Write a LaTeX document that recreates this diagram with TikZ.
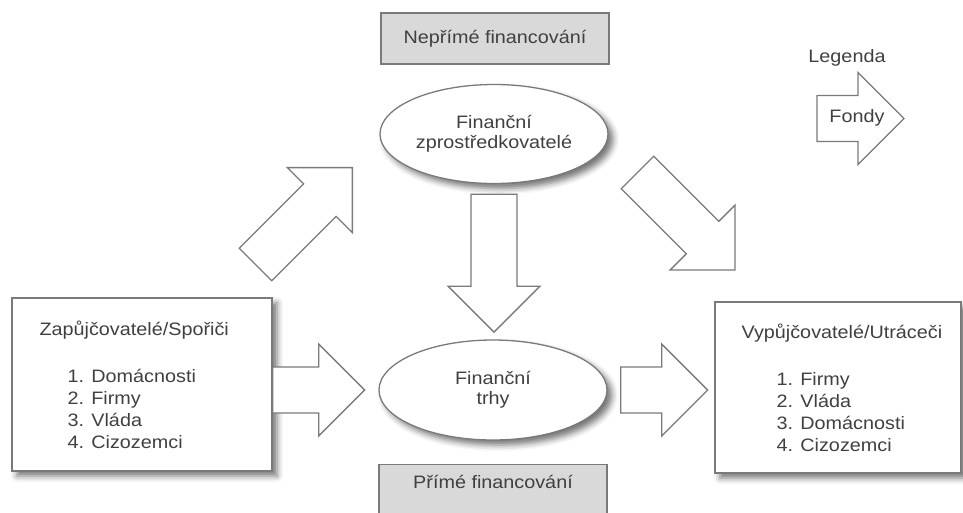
\documentclass[tikz,border=0pt]{standalone}
\usepackage{fontspec}
\setmainfont[FakeStretch = 1.1]{Liberation Sans}
\usepackage{tikz}
\usetikzlibrary{shapes.geometric,shadows.blur}

\definecolor{inkgray}{HTML}{404040}
\definecolor{linegray}{HTML}{7A7A7A}
\definecolor{labelfill}{HTML}{D9D9D9}

\tikzset{
  fundline/.style = {draw = linegray, line width = 1.3pt, fill = white, line join = miter},
  pics/fundarrow/.style = {code = {
    \path[fundline] (0,-23) -- (#1,-23) -- (#1,-46) -- (#1+46,0) -- (#1,46) -- (#1,23) -- (0,23) -- cycle;
  }},
  softshadow/.style = {blur shadow = {shadow xshift = 5pt, shadow yshift = -5pt, shadow blur radius = 6pt, shadow opacity = 55}}
}

\begin{document}
\begin{tikzpicture}[x = 1pt, y = -1pt,
  every node/.style = {text = inkgray, font = \fontsize{18}{21.7}\selectfont},
  party/.style = {draw = linegray, line width = 1.3pt, fill = white, shape = rectangle, softshadow},
  partytext/.style = {anchor = west, align = left, inner sep = 0pt},
  market/.style = {draw = linegray, line width = 1.3pt, fill = white, shape = ellipse, inner sep = 0pt, align = center, font = \fontsize{18}{20}\selectfont, minimum width = 228, minimum height = 99, softshadow},
  lane/.style = {draw = linegray, line width = 1.3pt, fill = labelfill, shape = rectangle, minimum width = 228, inner sep = 0pt}]
\useasboundingbox (0,0) rectangle (963,512);
\clip (0,0) rectangle (963,512);

% kind of financing
\node[lane, minimum height = 51] (indirect) at (495,38.5) {Nepřímé financování};
\node[lane, anchor = north, text height = 24pt, text depth = 30pt] (direct) at (493,464) {Přímé financování};

% intermediaries and markets
\node[market] (broker) at (494,134) {Finanční\\zprostředkovatelé};
\node[market, minimum height = 100] (markets) at (493,390) {Finanční\\trhy};

% lenders and borrowers
\node[party, minimum width = 260, minimum height = 173] (lenders) at (142,384.5) {};
\node[partytext] (lenderlist) at ([xshift = 28pt]lenders.west) {Zapůjčovatelé/Spořiči\\[26pt]
  \hspace*{28pt}1. Domácnosti\\
  \hspace*{28pt}2. Firmy\\
  \hspace*{28pt}3. Vláda\\
  \hspace*{28pt}4. Cizozemci};
\node[party, minimum width = 246, minimum height = 171] (borrowers) at (838,387.5) {};
\node[partytext] (borrowerlist) at ([xshift = 27pt]borrowers.west) {Vypůjčovatelé/Utráceči\\[26pt]
  \hspace*{35pt}1. Firmy\\
  \hspace*{35pt}2. Vláda\\
  \hspace*{35pt}3. Domácnosti\\
  \hspace*{35pt}4. Cizozemci};

% flows of funds
\pic[rotate = 45] at (255.5,264.5) {fundarrow = 91};
\pic[rotate = -45] at (637.5,172.5) {fundarrow = 92};
\pic[rotate = -90] at ([yshift = -10pt]broker.south) {fundarrow = 92};
\pic at (lenders.east |- markets.center) {fundarrow = 46};
\pic at ([xshift = 13pt]markets.east) {fundarrow = 41};

% legend
\node (legend) at (847,58) {Legenda};
\pic at (817,118.5) {fundarrow = 41};
\node (funds) at (857,118) {Fondy};
\end{tikzpicture}
\end{document}
